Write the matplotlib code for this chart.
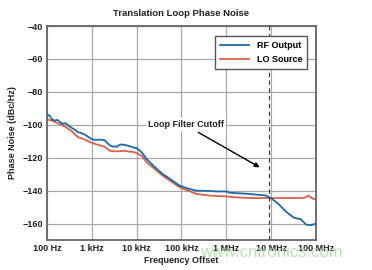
import matplotlib
import matplotlib.pyplot as plt

matplotlib.use('Agg')

plt.rcParams['font.family'] = ['Liberation Sans', 'DejaVu Sans']
plt.rcParams['axes.unicode_minus'] = True

# RF Output trace (frequency in Hz, noise in dBc/Hz)
freq_rf = [100, 115, 130, 150, 170, 200, 230, 260, 300, 360, 420, 490, 580, 700,
           850, 1000, 1250, 1500, 1950, 2300, 2600, 3000, 3600, 4000, 4400, 5400,
           7000, 8500, 10000, 12900, 16700, 25000, 38000, 60000, 90000, 150000,
           215000, 420000, 630000, 1e6, 1.2e6, 3.2e6, 7.7e6, 1.05e7, 1.5e7,
           2.15e7, 3.2e7, 4.6e7, 6e7, 7.4e7, 9e7, 1e8]
rf_output = [-93.7, -94.5, -96.7, -97.5, -97.0, -98.5, -99.5, -99.0, -100.5, -102,
             -103, -104.5, -105, -106, -107.5, -108.8, -109.2, -109.0, -109.4,
             -111.5, -112.8, -113.2, -113.4, -112.5, -112.0, -112.2, -113.0,
             -113.8, -114.2, -116.6, -120.8, -125.5, -129.9, -133.5, -136.9,
             -139.0, -140.0, -140.2, -140.5, -140.5, -141.3, -142.0, -143.0,
             -145.0, -148.5, -152.8, -156.4, -157.4, -160.6, -161.0, -160.5, -160.0]

# LO Source trace
freq_lo = [100, 130, 170, 250, 360, 490, 700, 1000, 1500, 1950, 2500, 3600, 5400,
           7000, 8300, 10000, 12900, 16700, 38000, 90000, 215000, 420000, 630000,
           1e6, 1.5e6, 3.2e6, 7.7e6, 2e7, 4.9e7, 6e7, 6.8e7, 8e7, 1e8]
lo_source = [-96.7, -97.5, -99.0, -101.0, -104.0, -107.5, -109.0, -111.0, -112.5,
             -113.4, -115.8, -116.2, -115.8, -116.4, -116.4, -117.2, -118.8, -122.8,
             -130.9, -137.9, -142.0, -143.0, -143.3, -143.5, -144.0, -144.5, -144.5,
             -144.5, -144.5, -144.0, -143.0, -144.5, -145.5]

xticks = [1e2, 1e3, 1e4, 1e5, 1e6, 1e7, 1e8]
xtick_labels = ['100 Hz', '1 kHz', '10 kHz', '100 kHz', '1 MHz', '10 MHz', '100 MHz']
yticks = [-40, -60, -80, -100, -120, -140, -160]
cutoff_freq = 9e6

fig = plt.figure(figsize=(3.72, 2.70), dpi=100)
ax = fig.add_axes([0.1263, 0.1111, 0.7231, 0.7926])

ax.semilogx(freq_rf, rf_output, color='#1d6aa5', linewidth=1.3, label='RF Output', zorder=3)
ax.semilogx(freq_lo, lo_source, color='#d8604e', linewidth=1.3, label='LO Source', zorder=2)

ax.set_xlim(1e2, 1e8)
ax.set_ylim(-170, -40)
ax.set_xticks(xticks)
ax.set_xticklabels(xtick_labels)
ax.minorticks_off()
ax.set_yticks(yticks)
ax.tick_params(length=0, pad=3, labelsize=6.5, colors='#222222')
for lbl in ax.get_xticklabels() + ax.get_yticklabels():
    lbl.set_fontweight('bold')

ax.grid(True, color='#a8a8a8', linewidth=0.9)
for sp in ax.spines.values():
    sp.set_color('#666666')
    sp.set_linewidth(1.3)

# loop filter cutoff marker
ax.axvline(cutoff_freq, color='#333333', linestyle=(0, (4, 3)), linewidth=0.8, zorder=4)
ax.annotate('', xy=(6.3e6, -126.7), xytext=(2.1e5, -103.8),
            arrowprops=dict(arrowstyle='-|>', color='black', lw=1.0,
                            mutation_scale=7), zorder=5)
ax.text(1.25e5, -100, 'Loop Filter Cutoff', ha='center', va='center', fontsize=6.5,
        fontweight='bold', color='#222222',
        bbox=dict(facecolor='white', edgecolor='none', pad=1.5), zorder=5)

leg = ax.legend(loc='upper right', fontsize=6.5, handlelength=3.2, fancybox=False,
                framealpha=1, edgecolor='#555555', borderpad=0.6, labelspacing=0.5,
                bbox_to_anchor=(0.985, 0.975))
leg.get_frame().set_linewidth(1.0)
for t in leg.get_texts():
    t.set_fontweight('bold')

ax.set_title('Translation Loop Phase Noise', fontsize=6.8, fontweight='bold',
             color='#222222', pad=7)
ax.set_xlabel('Frequency Offset', fontsize=6.5, fontweight='bold', color='#222222',
              labelpad=2)
ax.set_ylabel('Phase Noise (dBc/Hz)', fontsize=6.5, fontweight='bold', color='#222222',
              labelpad=4)

fig.text(0.73, 0.063, 'www.cntronics.com', fontsize=12, color='#9fd49a', alpha=0.7,
         ha='center', va='center')

fig.savefig('out.png', dpi=100)
